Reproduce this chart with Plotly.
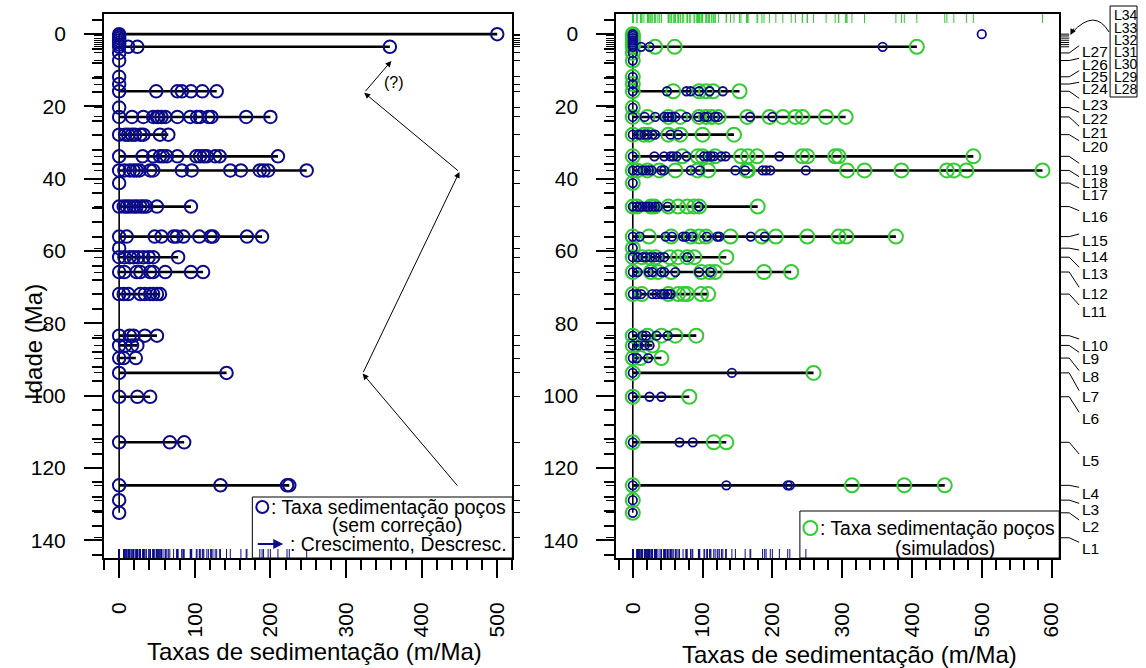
import plotly.graph_objects as go

W, H = 1146, 668
FONT = "Liberation Sans, Arial, sans-serif"
FONT_NARROW = "Liberation Sans Narrow, Arial Narrow, Liberation Sans, sans-serif"
NAVY = "#0b0b8a"
GREEN = "#33cc33"

# ---- data -------------------------------------------------------------
nomes_camadas = [f"L{i}" for i in range(1, 35)]
idade_camadas = [139.3, 132.4, 128.9, 124.8, 112.9, 100.3, 93.7, 89.6, 86.1, 83.4,
                 71.9, 65.8, 61.7, 59.2, 56.0, 47.7, 41.2, 37.7, 33.8, 27.8,
                 22.9, 20.3, 15.8, 13.8, 11.8, 7.3, 5.2, 3.5, 2.9, 2.3,
                 1.7, 1.1, 0.5, 0.0]

# observed sedimentation rates per layer (m/Ma), L1..L34
taxa_pocos = [
    [],
    [0], [0],
    [0, 134, 222, 225],
    [0, 67, 86],
    [0, 24, 41],
    [0, 142],
    [0, 6, 22],
    [0, 8, 17, 24],
    [0, 14, 19, 34, 50],
    [0, 6, 12, 28, 34, 41, 45, 50, 54],
    [0, 7, 23, 28, 41, 45, 61, 95, 111],
    [0, 7, 14, 19, 25, 32, 39, 45, 78],
    [0],
    [0, 10, 47, 56, 72, 76, 85, 106, 121, 124, 169, 189],
    [0, 6, 10, 14, 19, 23, 28, 32, 36, 50, 95],
    [0],
    [0, 7, 14, 19, 23, 27, 41, 45, 83, 96, 147, 161, 186, 191, 197, 248],
    [0, 31, 45, 54, 58, 63, 77, 102, 107, 112, 116, 127, 133, 210],
    [0, 8, 12, 17, 21, 28, 32, 54, 65],
    [0, 17, 32, 45, 50, 52, 56, 61, 77, 94, 103, 107, 118, 122, 168, 200],
    [0],
    [0, 49, 77, 83, 95, 110, 129],
    [0], [0], [0], [0],
    [0, 12, 24, 358],
    [0], [0], [0], [0], [0],
    [0, 500],
]

# simulated sedimentation rates per layer (m/Ma), L1..L34
taxa_simulada = [
    [],
    [0], [0],
    [0, 314, 389, 447],
    [0, 116, 134],
    [0, 81],
    [0, 259],
    [0, 11, 41],
    [0, 28],
    [0, 21, 41, 61, 91],
    [0, 13, 51, 65, 73, 78, 98, 108],
    [0, 26, 36, 55, 98, 110, 118, 188, 227],
    [0, 13, 23, 33, 53, 65, 78, 88, 134],
    [0],
    [0, 23, 55, 83, 95, 105, 140, 185, 205, 250, 295, 306, 377],
    [0, 6, 26, 31, 51, 65, 78, 88, 95, 179],
    [0],
    [0, 6, 21, 38, 61, 93, 108, 163, 165, 307, 332, 385, 450, 460, 478, 587],
    [0, 71, 93, 100, 118, 155, 165, 178, 243, 250, 290, 295, 488],
    [0, 16, 23, 51, 68, 100, 145],
    [0, 21, 51, 68, 95, 105, 113, 123, 164, 196, 215, 233, 243, 277, 305],
    [0],
    [0, 58, 95, 105, 115, 153],
    [0], [0], [0], [0],
    [0, 32, 60, 407],
    [0], [0], [0], [0], [0],
    [0],
]

x1_ticks = [0, 100, 200, 300, 400, 500]
x2_ticks = [0, 100, 200, 300, 400, 500, 600]
y_ticks = [0, 20, 40, 60, 80, 100, 120, 140]

# trend arrows drawn on the observed-rate panel: (tail, head) in (rate, age)
setas_tendencia = [((449, 125.3), (322, 93.9)),
                   ((322, 93.9), (450, 38.1)),
                   ((450, 38.1), (324, 16.2)),
                   ((324, 16.2), (360, 7.4))]

# ---- layout geometry (pixels) -------------------------------------------
TOP, BOT = 14, 558
X1L, X1R = 104.3, 513.7
X2L, X2R = 618.0, 1062.0
Y_RANGE = [144.9, -5.57]
X1_RANGE = [-20, 520]
X2_RANGE = [-23.5, 611]
RUG_PX = 9
RUG_MAX = 300
# vertical pixel centres of the layer labels on the right margin
label_y_px = [548.3, 526, 509.3, 493.3, 460, 418.3, 396.7, 376.7, 358.3, 345,
              311, 293.3, 273.3, 256, 240, 216.7, 194, 182.7, 169.3, 146.7,
              132.3, 118.3, 104.3, 88.3, 76.7, 64.3, 51.7]
box_label_y_px = [89, 76.8, 64.5, 52.2, 39.8, 27.5, 15.2]   # L28..L34


def px(x):
    return x / W


def py(y):
    return 1 - y / H


def age_at(ypix):
    span = Y_RANGE[0] - Y_RANGE[1]
    return Y_RANGE[1] + (ypix - TOP) / (BOT - TOP) * span


rug_age = RUG_PX / (BOT - TOP) * (Y_RANGE[0] - Y_RANGE[1])


def segs(pairs):
    xs, ys = [], []
    for (xa, ya), (xb, yb) in pairs:
        xs += [xa, xb, None]
        ys += [ya, yb, None]
    return xs, ys


def flat(rates):
    xs, ys = [], []
    for age, vals in zip(idade_camadas, rates):
        for v in vals:
            xs.append(v)
            ys.append(age)
    return xs, ys


fig = go.Figure()


def add_rows(rates, xa, ya):
    pairs = [((0, a), (max(v), a)) for a, v in zip(idade_camadas, rates) if v]
    xs, ys = segs(pairs)
    fig.add_trace(go.Scatter(x=xs, y=ys, mode="lines", xaxis=xa, yaxis=ya,
                             line=dict(color="black", width=2.6),
                             hoverinfo="skip", showlegend=False))
    ages = [a for a, v in zip(idade_camadas, rates) if v]
    fig.add_trace(go.Scatter(x=[0, 0], y=[min(ages), max(ages)], mode="lines",
                             xaxis=xa, yaxis=ya,
                             line=dict(color="black", width=1.6),
                             hoverinfo="skip", showlegend=False))


def add_rug(vals, xa, ya, color, top):
    if top:
        y0, y1 = Y_RANGE[1], Y_RANGE[1] + rug_age
    else:
        y0, y1 = Y_RANGE[0] - rug_age, Y_RANGE[0]
    pairs = [((v, y0), (v, y1)) for v in vals if v < RUG_MAX or top]
    xs, ys = segs(pairs)
    fig.add_trace(go.Scatter(x=xs, y=ys, mode="lines", xaxis=xa, yaxis=ya,
                             line=dict(color=color, width=1),
                             hoverinfo="skip", showlegend=False))


def add_points(rates, xa, ya, color, size, lw):
    xs, ys = flat(rates)
    fig.add_trace(go.Scatter(x=xs, y=ys, mode="markers", xaxis=xa, yaxis=ya,
                             marker=dict(symbol="circle-open", size=size,
                                         color=color, line=dict(width=lw)),
                             hoverinfo="skip", showlegend=False))


obs_x, _ = flat(taxa_pocos)
sim_x, _ = flat(taxa_simulada)

# left panel: observed rates
add_rug(obs_x, "x", "y", NAVY, top=False)
add_rows(taxa_pocos, "x", "y")
add_points(taxa_pocos, "x", "y", NAVY, 12.5, 2)

# right panel: simulated rates with observed ones overlaid
add_rug(sim_x, "x2", "y2", GREEN, top=True)
add_rug(obs_x, "x2", "y2", NAVY, top=False)
add_rows(taxa_simulada, "x2", "y2")
add_points(taxa_simulada, "x2", "y2", GREEN, 14, 2)
add_points(taxa_pocos, "x2", "y2", NAVY, 8.5, 1.8)

# layer leader lines on the right margin
lead = []
for i, age in enumerate(idade_camadas):
    if i < len(label_y_px):
        lead += [((0, age), (10, age)), ((10, age), (20, age_at(label_y_px[i] - 6)))]
    else:
        lead += [((0, age), (10, age))]
lx, ly = segs(lead)
fig.add_trace(go.Scatter(x=lx, y=ly, mode="lines", xaxis="x3", yaxis="y2",
                         line=dict(color="black", width=1),
                         hoverinfo="skip", showlegend=False))

# invisible anchors so the layer-tick overlay axes get drawn
for ya in ["y3", "y4", "y5"]:
    fig.add_trace(go.Scatter(x=[0], y=[0], mode="markers", yaxis=ya,
                             xaxis="x2" if ya == "y5" else "x",
                             marker=dict(opacity=0), hoverinfo="skip",
                             showlegend=False))

axis_common = dict(showgrid=False, zeroline=False, showline=True, mirror=True,
                   linecolor="black", linewidth=2, ticks="outside",
                   tickcolor="black", tickwidth=1.5, ticklen=18,
                   tickfont=dict(family=FONT, size=21, color="black"))

fig.update_layout(
    width=W, height=H, margin=dict(l=0, r=0, t=0, b=0),
    paper_bgcolor="white", plot_bgcolor="white",
    font=dict(family=FONT, color="black"),
    xaxis=dict(domain=[px(X1L), px(X1R)], range=X1_RANGE, anchor="y",
               tickvals=x1_ticks, tickangle=-90, ticklabelstandoff=16,
               minor=dict(dtick=20, tick0=0, ticks="outside", ticklen=10,
                          tickwidth=1.5, tickcolor="black"),
               **axis_common),
    yaxis=dict(domain=[py(BOT), py(TOP)], range=Y_RANGE, anchor="x",
               tickvals=y_ticks, ticklabelstandoff=14,
               minor=dict(dtick=4, tick0=0, ticks="outside", ticklen=10,
                          tickwidth=1.5, tickcolor="black"),
               **axis_common),
    xaxis2=dict(domain=[px(X2L), px(X2R)], range=X2_RANGE, anchor="y2",
                tickvals=x2_ticks, tickangle=-90, ticklabelstandoff=16,
                minor=dict(dtick=20, tick0=0, ticks="outside", ticklen=10,
                           tickwidth=1.5, tickcolor="black"),
                **axis_common),
    yaxis2=dict(domain=[py(BOT), py(TOP)], range=Y_RANGE, anchor="x2",
                tickvals=y_ticks, ticklabelstandoff=14,
                minor=dict(dtick=4, tick0=0, ticks="outside", ticklen=10,
                           tickwidth=1.5, tickcolor="black"),
                **axis_common),
    xaxis3=dict(domain=[px(X2R), 1.0], range=[0, W - X2R], anchor="y2",
                visible=False),
    yaxis3=dict(overlaying="y", anchor="x", side="left", range=Y_RANGE,
                tickvals=idade_camadas, ticks="outside", ticklen=9,
                tickwidth=1, tickcolor="black", showticklabels=False,
                showgrid=False, zeroline=False, showline=False),
    yaxis4=dict(overlaying="y", anchor="x", side="right", range=Y_RANGE,
                tickvals=idade_camadas, ticks="outside", ticklen=7,
                tickwidth=1, tickcolor="black", showticklabels=False,
                showgrid=False, zeroline=False, showline=False),
    yaxis5=dict(overlaying="y2", anchor="x2", side="left", range=Y_RANGE,
                tickvals=idade_camadas, ticks="outside", ticklen=9,
                tickwidth=1, tickcolor="black", showticklabels=False,
                showgrid=False, zeroline=False, showline=False),
)

ann = []
shapes = []


def text_at(text, x, y, size, xanchor="center", family=FONT, angle=0,
            xref="paper", yref="paper"):
    if xref == "paper":
        x = px(x)
    if yref == "paper":
        y = py(y)
    ann.append(dict(text=text, x=x, y=y, xref=xref, yref=yref,
                    xanchor=xanchor, yanchor="middle", showarrow=False,
                    textangle=angle, font=dict(size=size, family=family)))


# axis titles
text_at("Taxas de sedimentação (m/Ma)", 315.5, 651, 24)
text_at("Taxas de sedimentação (m/Ma)", 852, 654, 24)
text_at("Idade (Ma)", 33, 342, 24, angle=-90)

# trend arrows and the question mark
for (tx, ty), (hx, hy) in setas_tendencia:
    ann.append(dict(x=hx, y=hy, ax=tx, ay=ty, xref="x", yref="y", axref="x",
                    ayref="y", text="", showarrow=True, arrowhead=2,
                    arrowsize=1.2, arrowwidth=1, arrowcolor="black",
                    standoff=0))
text_at("(?)", 364, 13.4, 16, xref="x", yref="y")

# layer labels
for i, name in enumerate(nomes_camadas[:len(label_y_px)]):
    text_at(name, 20.5, age_at(label_y_px[i]), 15.5, xanchor="left",
            family=FONT_NARROW, xref="x3", yref="y2")
for name, yy in zip(nomes_camadas[len(label_y_px):], box_label_y_px):
    text_at(name, 1114.5, yy, 14, xanchor="left", family=FONT_NARROW)
shapes.append(dict(type="rect", xref="paper", yref="paper", x0=px(1113),
                   x1=px(1140), y0=py(97), y1=py(6),
                   line=dict(color="black", width=1)))
shapes.append(dict(type="path", xref="paper", yref="paper",
                   path=f"M {px(1112)} {py(32)} Q {px(1097.5)} {py(8)} "
                        f"{px(1075)} {py(32.5)}",
                   line=dict(color="black", width=1)))
ann.append(dict(x=px(1073.3), y=py(35), xref="paper", yref="paper", ax=4,
                ay=-8, text="", showarrow=True, arrowhead=2, arrowsize=1.2,
                arrowwidth=1, arrowcolor="black", standoff=0))

# legend boxes
shapes.append(dict(type="rect", xref="paper", yref="paper", x0=px(253),
                   x1=px(X1R), y0=py(BOT), y1=py(497), fillcolor="white",
                   layer="below", line=dict(color="black", width=1)))
shapes.append(dict(type="circle", xref="paper", yref="paper", x0=px(257),
                   x1=px(269), y0=py(513), y1=py(501),
                   line=dict(color=NAVY, width=2)))
text_at(": Taxa sedimentação poços", 270, 507, 19.4, xanchor="left")
text_at("(sem correção)", 398, 525, 19.4)
ann.append(dict(x=px(284), y=py(544), ax=-27, ay=0, xref="paper",
                yref="paper", text="", showarrow=True, arrowhead=2,
                arrowsize=1, arrowwidth=2, arrowcolor=NAVY, standoff=0))
text_at(": Crescimento, Descresc.", 289, 544, 19.4, xanchor="left")

shapes.append(dict(type="rect", xref="paper", yref="paper", x0=px(802),
                   x1=px(X2R), y0=py(BOT), y1=py(511), fillcolor="white",
                   layer="below", line=dict(color="black", width=1)))
shapes.append(dict(type="circle", xref="paper", yref="paper", x0=px(805.5),
                   x1=px(819.5), y0=py(535), y1=py(521),
                   line=dict(color=GREEN, width=2)))
text_at(": Taxa sedimentação poços", 820, 528, 19.4, xanchor="left")
text_at("(simulados)", 947, 548, 19.4)

fig.update_layout(annotations=ann, shapes=shapes)
fig.write_html("out.html")
